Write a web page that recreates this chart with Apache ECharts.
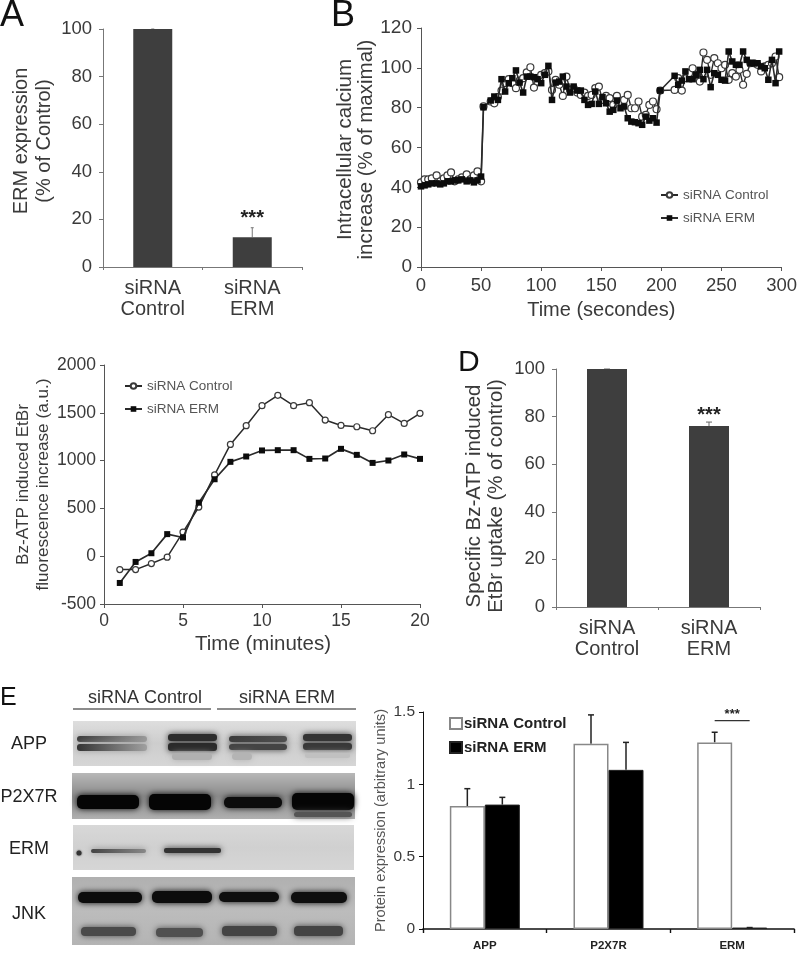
<!DOCTYPE html>
<html><head><meta charset="utf-8">
<style>html,body{margin:0;padding:0;background:#fff}#c{width:800px;height:953px;filter:blur(0.45px)}</style>
<script src="https://cdn.jsdelivr.net/npm/echarts@6/dist/echarts.min.js"></script>
</head><body><div id="c"></div>
<script>
// ---------- data ----------
const barCategories = ['siRNA\nControl', 'siRNA\nERM'];
const panelAValues = [100, 12.5];
const panelAErrors = [100, 16.5];
const panelDValues = [100, 76];
const panelDErrors = [100, 77.7];

const calciumTimes = [0,3,6,9,13,16,19,22,25,28,31,34,38,41,44,47,50,
  52,55,58,61,64,67,70,73,76,79,82,85,88,91,94,97,100,103,106,109,112,115,118,121,124,127,130,133,136,139,142,145,148,151,154,157,160,163,166,169,172,175,178,181,184,187,190,193,196,199,202,205,208,211,214,217,220,223,226,229,232,235,238,241,244,247,250,253,256,259,262,265,268,271,274,277,280,283,286,289,292,295,298];
const calciumControl = [42.5,44,44,44.5,46,43,44.5,46,47.5,43,44,45,46.5,44,46,48,43,
  80.6,null,83.1,82.2,85.3,88.6,92.3,94.3,92.3,89.8,
  93.6,94.8,97.7,100.3,90.1,93.1,96.5,97.3,98.2,88.9,
  94,91.5,85.9,95.6,88.9,89.8,87.6,86.4,87.6,85.9,
  86.4,89.8,90.6,83.9,85.9,84.8,81.4,85.9,83.1,83.9,
  86.4,79.7,79.7,83.1,75.5,76.4,81.4,83.1,79.2,88.6,
  null,null,null,88.9,94.8,88.6,94.8,97.3,99.8,96.5,
  93.1,107.7,104,96.5,104.9,102.3,99.8,101.5,94,97.3,
  95.6,99,91.5,97,102.3,102.3,101.5,98.2,100.7,101.5,
  102.3,105.7,95.3];
const calciumERM = [40.5,41,41.5,42,42,41.5,42,43,43,43.5,43.5,44,43,43.5,42.5,43.5,45.4,
  80.2,null,83.6,85.6,83.9,94.3,88.1,92.3,94.8,98.7,
  92.6,87.6,95.6,95.6,95.3,94.3,92.3,96.5,101,83.9,
  92.6,93.1,95.6,90.6,87.6,90.6,88.6,88.6,83.9,81.4,
  81.9,88.1,81.9,85.3,82.2,78,78.9,83.6,79.7,80.6,
  74.7,73,72.7,72.2,71.4,75.5,73.5,74.7,72.5,88.6,
  null,null,null,96,91.5,93.6,98.2,94.3,94.3,96.5,
  99,94.3,99,90.3,97.3,96.5,94,93.6,108.2,103.2,
  101.5,101.5,108.2,104,102.3,102.3,102.3,100.7,99.8,94,
  104,92.3,108.2];

const etbrMinutes = [1,2,3,4,5,6,7,8,9,10,11,12,13,14,15,16,17,18,19,20];
const etbrControl = [-140,-140,-77,-10,252,514,850,1169,1365,1575,1683,1575,1606,1424,1368,1354,1312,1480,1389,1494];
const etbrERM = [-280,-60,31,231,196,560,805,987,1043,1106,1109,1109,1018,1022,1123,1060,976,1001,1064,1018];

const proteinCategories = ['APP', 'P2X7R', 'ERM'];
const proteinControl = [0.85, 1.28, 1.29];
const proteinERM = [0.86, 1.10, 0.01];
const proteinControlErr = [0.97, 1.48, 1.36];
const proteinERMErr = [0.91, 1.29, 0.01];

// ---------- layout & style ----------
const FONT = '"Liberation Sans", Arial, sans-serif';
const TXT = '#3a3a3a', AX = '#777', BAR = '#3e3e3e';
const chart = echarts.init(document.getElementById('c'), null, {renderer: 'canvas'});

const axisCommon = (c, fs, margin) => ({
  axisLine: {show: true, onZero: false, lineStyle: {color: c || AX, width: 1}},
  axisTick: {show: true, length: 4, lineStyle: {color: c || AX, width: 1}},
  axisLabel: {color: TXT, fontSize: fs || 18, fontFamily: FONT, margin: margin || 8, formatter: v => String(v)},
  splitLine: {show: false}
});
const nameStyle = (s, pad, lh) => ({color: TXT, fontSize: s || 20, fontFamily: FONT, lineHeight: lh || (s || 20) + 3, padding: pad || 0});

function catX(i) {
  return Object.assign(axisCommon(), {type: 'category', gridIndex: i, data: barCategories,
    axisLabel: {color: TXT, fontSize: 20, fontFamily: FONT, lineHeight: 21, margin: 11, interval: 0},
    axisTick: {show: true, length: 3, alignWithLabel: false, lineStyle: {color: AX}}});
}
function valY(i, min, max, step, name, gap, ns, labelFs, col, margin, pad, nameCol, lh) {
  const s = nameStyle(ns, pad, lh);
  if (nameCol) s.color = nameCol;
  return Object.assign(axisCommon(col, labelFs, margin), {type: 'value', gridIndex: i, min, max, interval: step,
    name, nameLocation: 'middle', nameRotate: 90, nameGap: gap, nameTextStyle: s});
}
const errRender = (halfCap, color, lw, xOff) => (params, api) => {
  const i = api.value(0), top = api.coord([i, api.value(2)]), base = api.coord([i, api.value(1)]);
  const x = top[0] + (xOff || 0);
  const style = {stroke: color, lineWidth: lw, fill: null};
  return {type: 'group', children: [
    {type: 'line', shape: {x1: x, y1: base[1], x2: x, y2: top[1]}, style},
    {type: 'line', shape: {x1: x - halfCap, y1: top[1], x2: x + halfCap, y2: top[1]}, style}
  ]};
};
const errSeries = (xi, vals, errs, halfCap, color, lw, xOff) => ({
  type: 'custom', xAxisIndex: xi, yAxisIndex: xi, silent: true, z: 1,
  renderItem: errRender(halfCap, color, lw, xOff),
  data: vals.map((v, i) => [i, v, errs[i]])
});
const starMark = (cat, y) => ({
  symbol: 'circle', symbolSize: 0, silent: true,
  label: {show: true, position: 'inside', formatter: '***', color: '#222', fontSize: 20, fontFamily: FONT, fontWeight: 'bold'},
  data: [{coord: [cat, y]}]
});
const lineSeries = (name, xi, xs, ys, filled, size, w) => ({
  name, type: 'line', xAxisIndex: xi, yAxisIndex: xi, connectNulls: true, z: filled ? 4 : 3,
  data: xs.map((t, i) => [t, ys[i]]),
  symbol: filled ? 'rect' : 'circle', symbolSize: size, showSymbol: true,
  lineStyle: {color: '#2a2a2a', width: w},
  itemStyle: filled ? {color: '#0c0c0c', borderColor: '#0c0c0c', borderWidth: 0}
                    : {color: '#fff', borderColor: '#3a3a3a', borderWidth: 1.2}
});
const legendBase = (left, top) => ({
  left, top, orient: 'vertical', itemWidth: 17, itemHeight: 7, itemGap: 9, selectedMode: false,
  textStyle: {color: '#555', fontSize: 13.5, fontFamily: FONT},
  data: ['siRNA Control', 'siRNA ERM']
});

// Western-blot panels (image-like decoration, not chart data)
const blotBackgrounds = [
  [73, 721, 283, 45, ['#dedede', '#cdcdcd', '#d6d6d6']], [72, 773, 283, 46, ['#b8b8b8', '#8a8a8a', '#b0b0b0']],
  [73, 825, 281, 45, ['#d8d8d8', '#d0d0d0', '#d6d6d6']], [72, 877, 283, 68, ['#b0b0b0', '#bcbcbc', '#b4b4b4']]
];
const blotBands = [
  [77, 736, 70, 6, '#3c3c3c', 3, '#9a9a9a'], [77, 744, 70, 7, '#343434', 3, '#a0a0a0'],
  [168, 734, 49, 7, '#2c2c2c', 3], [168, 743, 49, 8, '#2a2a2a', 3], [172, 753, 40, 7, '#b0b0b0', 4],
  [229, 736, 58, 6, '#3c3c3c', 3, '#505050'], [229, 744, 58, 6, '#444', 3], [232, 753, 20, 7, '#b4b4b4', 4],
  [303, 734, 49, 7, '#333', 3], [303, 743, 49, 7, '#383838', 3], [305, 753, 45, 5, '#c0c0c0', 3],
  [77, 795, 62, 14, '#050505', 5], [149, 794, 62, 16, '#050505', 5],
  [224, 797, 58, 11, '#0c0c0c', 5], [292, 793, 62, 17, '#050505', 5], [294, 812, 58, 5, '#555', 3],
  [91, 849, 55, 4, '#444', 2, '#888'], [164, 848, 57, 5, '#333', 2],
  [78, 892, 64, 11, '#0c0c0c', 5], [152, 891, 60, 12, '#0c0c0c', 5], [219, 892, 60, 10, '#0e0e0e', 5], [291, 892, 56, 11, '#0e0e0e', 5],
  [81, 927, 55, 9, '#4a4a4a', 4], [156, 928, 47, 9, '#505050', 4], [222, 926, 55, 10, '#444', 4], [294, 926, 49, 10, '#444', 4]
];
const blotLabels = [['APP', 29, 744], ['P2X7R', 29, 797], ['ERM', 29, 849], ['JNK', 29, 914]];
const panelLetters = [['A', 0, 34, 36], ['B', 331, 34, 36], ['D', 458, 378, 30], ['E', 0, 711, 25]];

const vGrad = stops => ({type: 'linear', x: 0, y: 0, x2: 0, y2: 1, colorStops: stops.map((c, i) => ({offset: i / (stops.length - 1), color: c}))});
const hGrad = (a, b) => ({type: 'linear', x: 0, y: 0, x2: 1, y2: 0, colorStops: [{offset: 0, color: a}, {offset: 1, color: b}]});
const graphics = [];
blotBackgrounds.forEach(b => graphics.push({type: 'rect', shape: {x: b[0], y: b[1], width: b[2], height: b[3]}, style: {fill: vGrad(b[4])}, silent: true}));
blotBands.forEach(b => graphics.push({type: 'rect', shape: {x: b[0], y: b[1], width: b[2], height: b[3], r: b[5]},
  style: {fill: b[6] ? hGrad(b[4], b[6]) : b[4], shadowBlur: 6, shadowColor: b[6] || b[4]}, silent: true}));
graphics.push({type: 'circle', shape: {cx: 79, cy: 853, r: 2.5}, style: {fill: '#333', shadowBlur: 2, shadowColor: '#333'}, silent: true});
blotLabels.forEach(l => graphics.push({type: 'text', x: l[1], y: l[2], style: {text: l[0], x: 0, y: 0, align: 'center', verticalAlign: 'middle', fill: '#222', font: '18px ' + FONT}, silent: true}));
[['siRNA Control', 145, 698], ['siRNA ERM', 287, 698]].forEach(l => graphics.push({type: 'text', x: l[1], y: l[2], style: {text: l[0], align: 'center', verticalAlign: 'middle', fill: '#333', font: '18px ' + FONT}, silent: true}));
[[73, 211], [217, 356]].forEach(u => graphics.push({type: 'line', shape: {x1: u[0], y1: 709, x2: u[1], y2: 709}, style: {stroke: '#666', lineWidth: 1.5}, silent: true}));
panelLetters.forEach(l => graphics.push({type: 'text', x: l[1], y: l[2], style: {text: l[0], align: 'left', verticalAlign: 'bottom', fill: '#111', font: l[3] + 'px ' + FONT}, silent: true}));

const option = {
  animation: false, backgroundColor: '#fff', textStyle: {fontFamily: FONT},
  graphic: graphics,
  legend: [
    legendBase(655, 183),
    legendBase(119, 374),
    {left: 444, top: 711, orient: 'vertical', icon: 'rect', itemWidth: 12, itemHeight: 11, itemGap: 9, selectedMode: false,
     textStyle: {color: '#222', fontSize: 15, fontWeight: 'bold', fontFamily: FONT, padding: [0, 0, 0, -3]},
     data: ['siRNA Control ', 'siRNA ERM ']}
  ],
  grid: [
    {left: 103, top: 29, width: 199, height: 238},
    {left: 421, top: 28, width: 362, height: 239},
    {left: 104, top: 365, width: 316, height: 239},
    {left: 556, top: 369, width: 204, height: 238},
    {left: 423, top: 712, width: 371, height: 217}
  ],
  xAxis: [
    catX(0),
    Object.assign(axisCommon('#555', 18.5, 9), {type: 'value', gridIndex: 1, min: 0, max: 300, interval: 50,
      name: 'Time (secondes)', nameLocation: 'middle', nameGap: 32, nameTextStyle: nameStyle(20)}),
    Object.assign(axisCommon('#555', 17.5), {type: 'value', gridIndex: 2, min: 0, max: 20, interval: 5,
      name: 'Time (minutes)', nameLocation: 'middle', nameGap: 29, nameTextStyle: nameStyle(20.5, [0, 0, 0, 2])}),
    catX(3),
    Object.assign(axisCommon('#111', 11.5), {type: 'category', gridIndex: 4, data: proteinCategories,
      axisLine: {show: true, onZero: false, lineStyle: {color: '#111', width: 1.6}},
      axisTick: {show: true, length: 4, lineStyle: {color: '#111', width: 1.4}},
      axisLabel: {color: '#222', fontSize: 11.5, fontWeight: 'bold', fontFamily: FONT, margin: 11, interval: 0}})
  ],
  yAxis: [
    valY(0, 0, 100, 20, 'ERM expression\n(% of Control)', 47, 20, 18.5, null, 11, [0, 0, 0, 14]),
    valY(1, 0, 120, 20, 'Intracellular calcium\nincrease (% of maximal)', 43, 20.5, 19, '#555', 9, [0, 4, 0, 0], null, 21),
    valY(2, -500, 2000, 500, 'Bz-ATP induced EtBr\nfluorescence increase (a.u.)', 51, 17.2, 17.5, '#555', 8, 0, null, 20),
    valY(3, 0, 100, 20, 'Specific Bz-ATP induced\nEtBr uptake (% of control)', 49, 20.4, 18.5, null, 11, [0, 16, 0, 0], null, 22),
    valY(4, 0, 1.5, 0.5, 'Protein expression (arbitrary units)', 29, 14.6, 15.5, '#111', 8, 0, '#555')
  ],
  series: [
    {type: 'bar', xAxisIndex: 0, yAxisIndex: 0, data: panelAValues, barWidth: 39, itemStyle: {color: BAR}, z: 2,
     markPoint: starMark('siRNA\nERM', 20.2)},
    errSeries(0, panelAValues, panelAErrors, 1.5, '#777', 1),
    {type: 'bar', xAxisIndex: 3, yAxisIndex: 3, data: panelDValues, barWidth: 40, itemStyle: {color: BAR}, z: 2,
     markPoint: starMark('siRNA\nERM', 80.3)},
    errSeries(3, panelDValues, panelDErrors, 3, '#666', 1),

    lineSeries('siRNA Control', 1, calciumTimes, calciumControl, false, 7, 1.4),
    lineSeries('siRNA ERM', 1, calciumTimes, calciumERM, true, 6.5, 1.6),
    lineSeries('siRNA Control', 2, etbrMinutes, etbrControl, false, 6, 1.5),
    lineSeries('siRNA ERM', 2, etbrMinutes, etbrERM, true, 6, 1.7),

    {name: 'siRNA Control ', type: 'bar', xAxisIndex: 4, yAxisIndex: 4, data: proteinControl, barWidth: 35, barGap: 0,
     itemStyle: {color: '#fff', borderColor: '#888', borderWidth: 1.5}, z: 2},
    {name: 'siRNA ERM ', type: 'bar', xAxisIndex: 4, yAxisIndex: 4, data: proteinERM, barWidth: 35, barGap: 0,
     itemStyle: {color: '#000', borderColor: '#222', borderWidth: 1}, z: 3},
    errSeries(4, proteinControl, proteinControlErr, 3, '#222', 1.5, -17.5),
    errSeries(4, proteinERM, proteinERMErr, 3, '#222', 1.5, 17.5),
    {type: 'custom', xAxisIndex: 4, yAxisIndex: 4, silent: true, z: 5,
     renderItem: (p, api) => {
       const c = api.coord([api.value(0), api.value(1)]);
       return {type: 'group', children: [
         {type: 'line', shape: {x1: c[0] - 17.5, y1: c[1], x2: c[0] + 17.5, y2: c[1]}, style: {stroke: '#333', lineWidth: 1.3, fill: null}},
         {type: 'text', style: {text: '***', x: c[0], y: c[1] - 6, align: 'center', verticalAlign: 'middle', fill: '#222', font: 'bold 13px ' + FONT}}
       ]};
     },
     data: [[2, 1.44]]}
  ]
};
chart.setOption(option);
</script></body></html>
